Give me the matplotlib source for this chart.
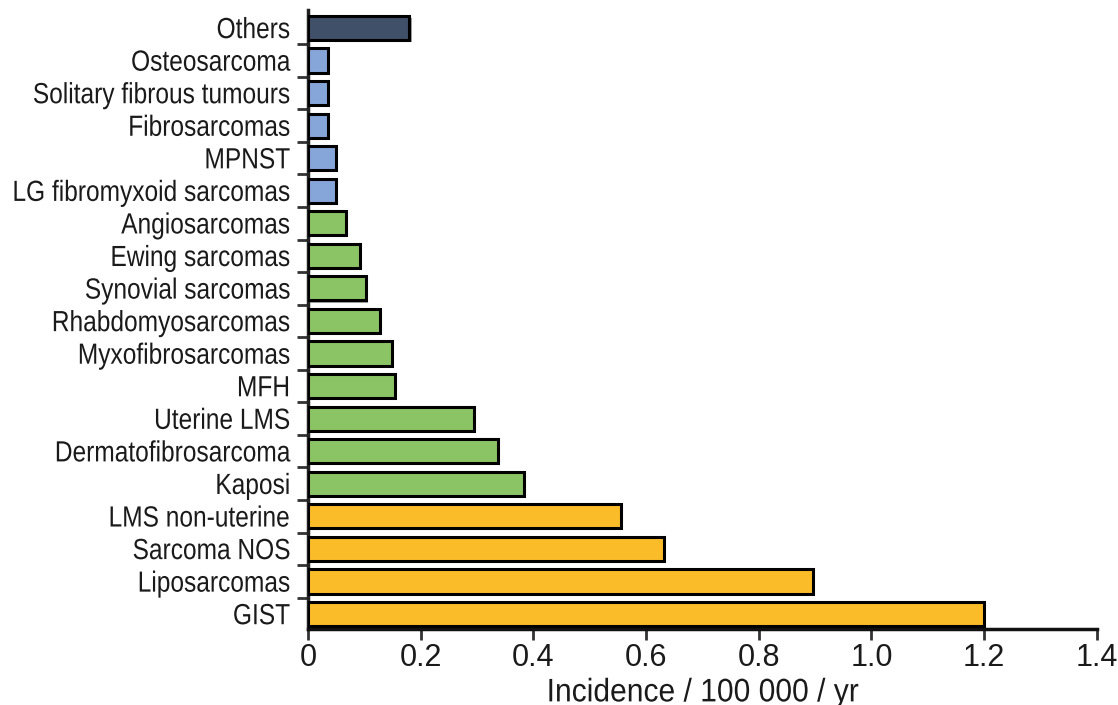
import matplotlib
matplotlib.use("Agg")
import matplotlib.pyplot as plt
import matplotlib.patheffects as pe
from matplotlib.ticker import FixedLocator
from matplotlib.transforms import Affine2D

plt.rcParams['font.family'] = ['Liberation Sans', 'DejaVu Sans']

categories = ["GIST", "Liposarcomas", "Sarcoma NOS", "LMS non-uterine", "Kaposi",
              "Dermatofibrosarcoma", "Uterine LMS", "MFH", "Myxofibrosarcomas",
              "Rhabdomyosarcomas", "Synovial sarcomas", "Ewing sarcomas", "Angiosarcomas",
              "LG fibromyxoid sarcomas", "MPNST", "Fibrosarcomas",
              "Solitary fibrous tumours", "Osteosarcoma", "Others"]
values = [1.20, 0.896, 0.632, 0.555, 0.383, 0.337, 0.295, 0.154, 0.149, 0.128,
          0.103, 0.092, 0.067, 0.05, 0.05, 0.035, 0.035, 0.035, 0.18]
groups = ["top"] * 4 + ["mid"] * 9 + ["low"] * 5 + ["other"]
group_colors = {"top": "#fbbc2a", "mid": "#8bc464", "low": "#86a5d9", "other": "#405068"}
xticks = [0, 0.2, 0.4, 0.6, 0.8, 1.0, 1.2, 1.4]
xticklabels = ["0", "0.2", "0.4", "0.6", "0.8", "1.0", "1.2", "1.4"]


class Tall(pe.AbstractPathEffect):
    """Stretch glyph outlines vertically (about half cap height) so a smaller
    font size looks like a tall, narrow typeface while layout stays exact."""
    def __init__(self, sy):
        super().__init__()
        self.sy = sy

    def draw_path(self, renderer, gc, tpath, affine, rgbFace=None):
        y0 = 36.0  # half cap height in text-path units (100 units per em)
        t = Affine2D().translate(0, -y0).scale(1, self.sy).translate(0, y0) + affine
        renderer.draw_path(gc, tpath, t, rgbFace)


TXT = "#1a1a1a"
NARROW_Y = 0.84
NARROW_XL = 0.92

fig = plt.figure(figsize=(11.18, 7.05), dpi=100)
ax = fig.add_axes([0.2755, 0.1078, 0.7055, 0.878])
y = list(range(len(categories)))
bars = ax.barh(y, values, height=0.74, color=[group_colors[g] for g in groups],
               edgecolor="black", linewidth=2.2, zorder=3)
for b in bars:
    b.set_path_effects([pe.SimplePatchShadow(offset=(1.5, -1.5), shadow_rgbFace="#888888", alpha=0.8), pe.Normal()])

ax.set_xlim(0, 1.4)
ax.set_ylim(-0.46, 18.55)
ax.set_yticks(y)
ax.set_yticklabels(categories, fontsize=21 * NARROW_Y, color=TXT)
ax.yaxis.set_minor_locator(FixedLocator([i + 0.5 for i in range(-1, len(categories) - 1)]))
ax.tick_params(axis="y", which="major", length=0, pad=13)
ax.tick_params(axis="y", which="minor", length=8, width=2, color="#333333")
ax.set_xticks(xticks)
ax.set_xticklabels(xticklabels, fontsize=22, color=TXT)
ax.tick_params(axis="x", length=8, width=2, color="#333333", pad=2)
ax.set_xlabel("Incidence / 100 000 / yr", fontsize=23.5 * NARROW_XL, color=TXT, labelpad=4)
for s in ["top", "right"]:
    ax.spines[s].set_visible(False)
ax.spines["left"].set_linewidth(2.5)
ax.spines["bottom"].set_linewidth(2.5)
ax.spines["left"].set_color("#222222")
ax.spines["bottom"].set_color("#111111")

for t in ax.get_yticklabels():
    t.set_path_effects([Tall(1 / NARROW_Y)])
ax.xaxis.label.set_path_effects([Tall(1 / NARROW_XL)])

fig.savefig("out.png", dpi=100)
